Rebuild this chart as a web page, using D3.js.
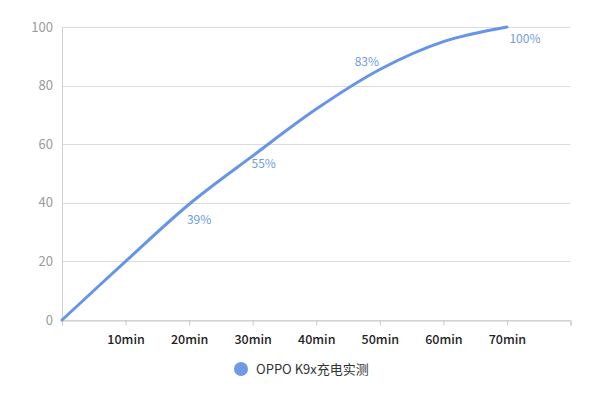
<!DOCTYPE html>
<html><head><meta charset="utf-8">
<script src="https://cdn.jsdelivr.net/npm/d3@7"></script>
<style>body{margin:0;background:#fff}svg{display:block;font-family:"Noto Sans CJK SC","Open Sans",sans-serif}</style>
</head><body><svg id="c" width="600" height="413"></svg>
<script>
const minutes = [0, 10, 20, 30, 40, 50, 60, 70];
const charge = [0, 20, 39.5, 56, 72, 85.5, 95, 100];
const labelMinutes = [20, 30, 50, 70];
const labelValues = [39, 55, 83, 100];
const xTickLabels = ["10min","20min","30min","40min","50min","60min","70min"];
const yTicks = [0, 20, 40, 60, 80, 100];
const seriesName = "OPPO K9x充电实测";

const svg = d3.select("#c");
const x = d3.scaleLinear().domain([0, 80]).range([62, 570.5]);
const y = d3.scaleLinear().domain([0, 100]).range([320, 27]);
const lineColor = "#6694e6";

// grid
svg.append("g").selectAll("line").data(yTicks).join("line")
  .attr("x1", 62).attr("x2", 570.5)
  .attr("y1", d => Math.round(y(d)) + 0.5).attr("y2", d => Math.round(y(d)) + 0.5)
  .attr("stroke", "#dcdcdc").attr("stroke-width", 1);
// y labels
svg.append("g").selectAll("text").data(yTicks).join("text")
  .attr("x", 53).attr("y", d => y(d)).attr("dy", "0.36em")
  .attr("text-anchor", "end").attr("fill", "#9a9a9a").attr("font-size", 13)
  .text(d => d);
// left axis line
svg.append("line").attr("x1", 62.5).attr("x2", 62.5).attr("y1", 27).attr("y2", 320)
  .attr("stroke", "#d0d0d0");
// x axis
const xAxis = d3.axisBottom(x).tickValues(d3.range(0, 90, 10)).tickSize(5)
  .tickFormat(d => (d >= 10 && d <= 70) ? xTickLabels[d / 10 - 1] : "");
const gx = svg.append("g").attr("transform", "translate(0,320.5)").call(xAxis);
gx.select(".domain").attr("stroke", "#c8c8c8");
gx.selectAll(".tick line").attr("stroke", "#c8c8c8");
gx.selectAll(".tick text").attr("fill", "#222").attr("font-size", 12.5)
  .attr("font-weight", 500).attr("dy", "1.25em")
  .attr("font-family", "'Noto Sans CJK SC','Open Sans',sans-serif");

// line
const data = minutes.map((m, i) => ({m, v: charge[i]}));
svg.append("path").datum(data)
  .attr("fill", "none").attr("stroke", lineColor).attr("stroke-width", 3)
  .attr("stroke-linecap", "round")
  .attr("d", d3.line().x(d => x(d.m)).y(d => y(d.v)).curve(d3.curveCatmullRom.alpha(0.5)));

// labels
const offs = [[10, 14], [11, 5], [-13, -15], [18, 12]];
svg.append("g").selectAll("text").data(labelMinutes).join("text")
  .attr("x", (d, i) => x(d) + offs[i][0])
  .attr("y", (d, i) => y(labelValues[i]) + offs[i][1])
  .attr("dy", "0.36em").attr("text-anchor", "middle")
  .attr("fill", "#6f9be6").attr("font-size", 12)
  .text((d, i) => labelValues[i] + "%");

// legend
svg.append("circle").attr("cx", 241).attr("cy", 369).attr("r", 7).attr("fill", "#7099e8");
svg.append("text").attr("x", 256).attr("y", 369).attr("dy", "0.36em")
  .attr("fill", "#333").attr("font-size", 13).text(seriesName);
</script></body></html>
